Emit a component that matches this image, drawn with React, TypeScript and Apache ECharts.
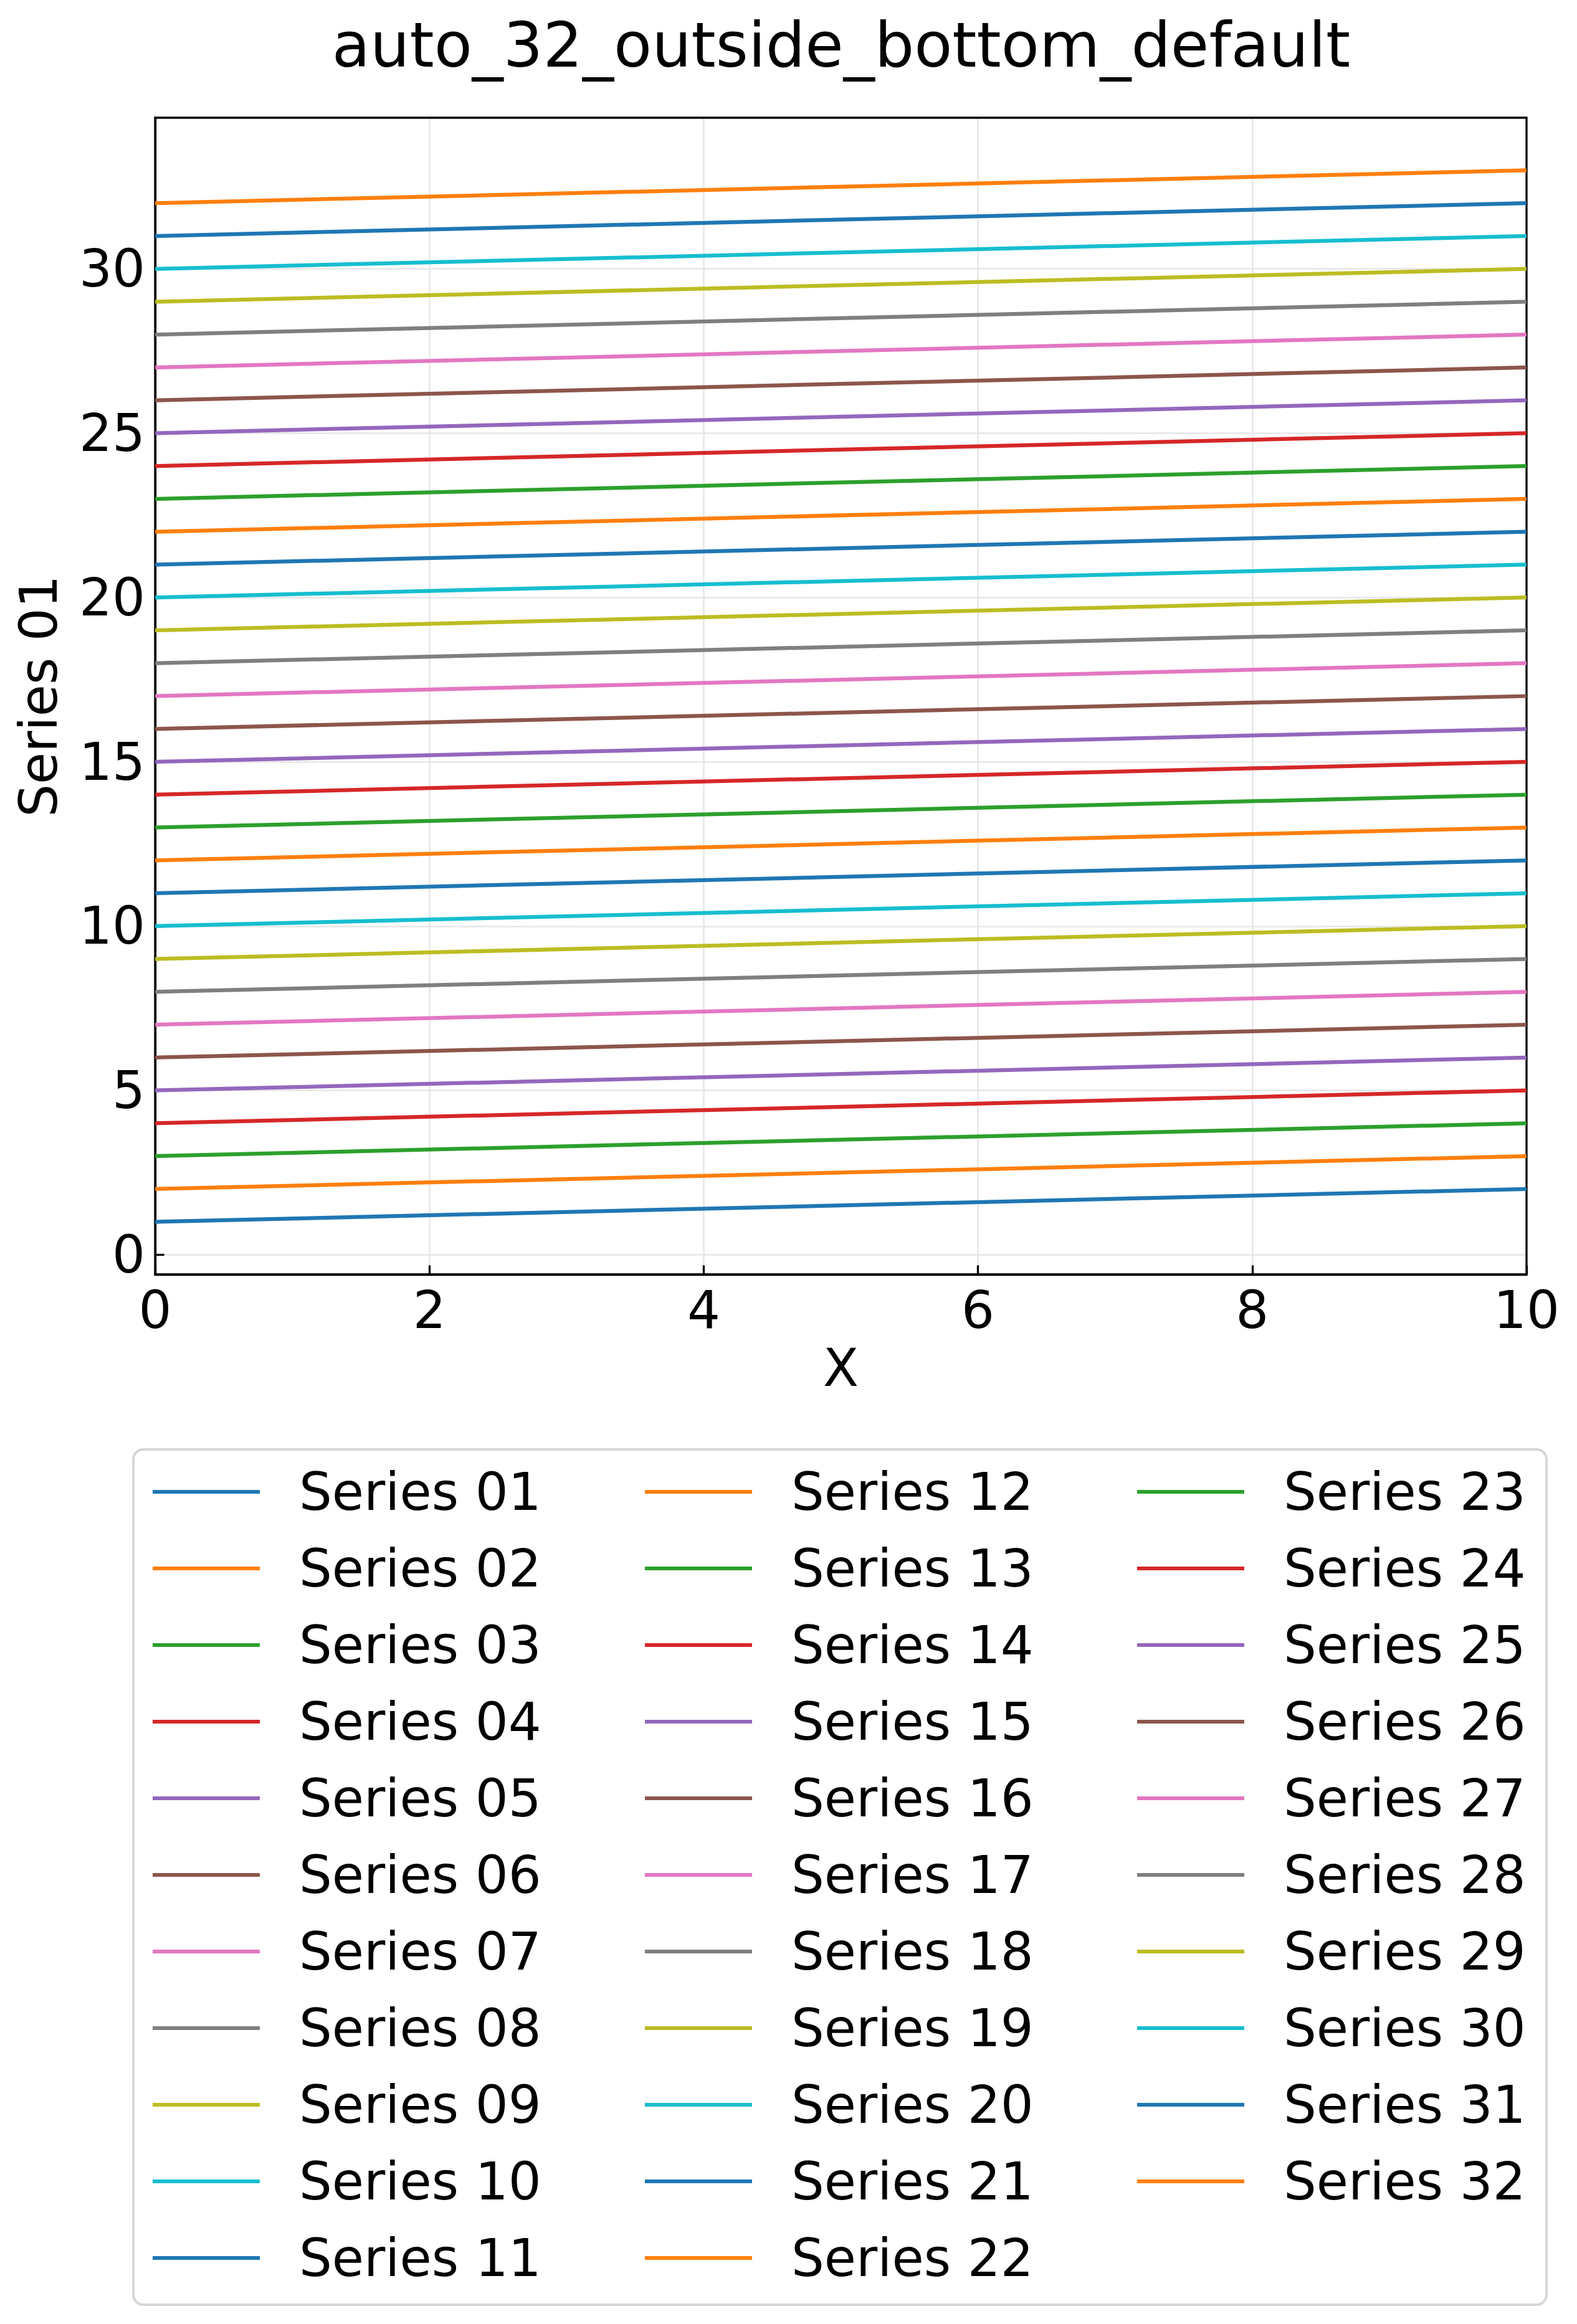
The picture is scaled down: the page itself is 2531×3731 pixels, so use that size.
import { useEffect, useRef } from 'react'
import * as echarts from 'echarts'

const seriesNames = [
  'Series 01', 'Series 02', 'Series 03', 'Series 04', 'Series 05', 'Series 06', 'Series 07', 'Series 08',
  'Series 09', 'Series 10', 'Series 11', 'Series 12', 'Series 13', 'Series 14', 'Series 15', 'Series 16',
  'Series 17', 'Series 18', 'Series 19', 'Series 20', 'Series 21', 'Series 22', 'Series 23', 'Series 24',
  'Series 25', 'Series 26', 'Series 27', 'Series 28', 'Series 29', 'Series 30', 'Series 31', 'Series 32',
]

// each series is a straight line from x = 0 to x = 10
const xValues = [0, 10]
const startValues = [1, 2, 3, 4, 5, 6, 7, 8, 9, 10, 11, 12, 13, 14, 15, 16, 17, 18, 19, 20, 21, 22, 23, 24, 25, 26, 27, 28, 29, 30, 31, 32]
const endValues = [2, 3, 4, 5, 6, 7, 8, 9, 10, 11, 12, 13, 14, 15, 16, 17, 18, 19, 20, 21, 22, 23, 24, 25, 26, 27, 28, 29, 30, 31, 32, 33]

const yTicks = [0, 5, 10, 15, 20, 25, 30]

const palette = ['#1f77b4', '#ff7f0e', '#2ca02c', '#d62728', '#9467bd', '#8c564b', '#e377c2', '#7f7f7f', '#bcbd22', '#17becf']

const FONT = 'DejaVu Sans'

export default function App() {
  const chartRef = useRef<HTMLDivElement>(null)

  useEffect(() => {
    document.body.style.margin = '0'
    if (!chartRef.current) return

    const chart = echarts.init(chartRef.current, null, { renderer: 'svg' })

    const legendText = {
      fontFamily: FONT,
      fontSize: 83.3,
      color: '#000',
      lineHeight: 100,
      padding: [0, 0, 0, 58],
    }
    const legendCols = [0, 11, 22]
    const legendLeft = [245, 1035, 1825]

    const option: any = {
      animation: false,
      backgroundColor: '#fff',
      title: {
        text: 'auto_32_outside_bottom_default',
        left: 1350,
        top: 22,
        textAlign: 'center',
        padding: 0,
        textStyle: { fontFamily: FONT, fontSize: 100, fontWeight: 'normal', color: '#000' },
      },
      graphic: [
        {
          type: 'rect',
          z: -10,
          shape: { x: 214, y: 2327, width: 2268, height: 1373, r: 16 },
          style: { fill: '#fff', stroke: '#d6d6d6', lineWidth: 4 },
        },
      ],
      legend: legendCols.map((start, c) => ({
        orient: 'vertical',
        left: legendLeft[c],
        top: 2345,
        padding: 0,
        itemGap: 23,
        itemWidth: 172,
        itemHeight: 6,
        icon: 'rect',
        selectedMode: false,
        textStyle: legendText,
        data: seriesNames.slice(start, start + 11),
      })),
      grid: {
        left: 249,
        right: 81,
        top: 189,
        bottom: 1685,
        show: true,
        borderColor: '#000',
        borderWidth: 3.3,
        containLabel: false,
        z: 3,
      },
      xAxis: {
        type: 'value',
        min: 0,
        max: 10,
        interval: 2,
        name: 'X',
        nameLocation: 'middle',
        nameGap: 109,
        nameTextStyle: { fontFamily: FONT, fontSize: 83.3, color: '#000' },
        axisLine: { show: true, onZero: false, lineStyle: { color: '#000', width: 3.3 } },
        axisTick: { show: true, inside: true, length: 14.6, lineStyle: { color: '#000', width: 3.3 } },
        axisLabel: { fontFamily: FONT, fontSize: 83.3, color: '#000', margin: 16 },
        splitLine: { show: true, showMinLine: false, showMaxLine: false, lineStyle: { color: '#e6e6e6', width: 2.5 } },
      },
      yAxis: {
        type: 'value',
        min: -0.6,
        max: 34.6,
        name: 'Series 01',
        nameLocation: 'middle',
        nameGap: 145,
        nameRotate: 90,
        nameTextStyle: { fontFamily: FONT, fontSize: 83.3, color: '#000' },
        axisLine: { show: true, onZero: false, lineStyle: { color: '#000', width: 3.3 } },
        axisTick: {
          show: true,
          inside: true,
          length: 14.6,
          customValues: yTicks,
          lineStyle: { color: '#000', width: 3.3 },
        },
        axisLabel: { fontFamily: FONT, fontSize: 83.3, color: '#000', margin: 16, customValues: yTicks },
        splitLine: { show: true, lineStyle: { color: '#e6e6e6', width: 2.5 } },
      },
      series: seriesNames.map((name, i) => ({
        name,
        type: 'line',
        color: palette[i % palette.length],
        showSymbol: false,
        symbol: 'none',
        lineStyle: { width: 6.25, color: palette[i % palette.length] },
        data: xValues.map((x, j) => [x, j === 0 ? startValues[i] : endValues[i]]),
      })),
    }

    chart.setOption(option)

    return () => {
      chart.dispose()
    }
  }, [])

  return <div ref={chartRef} style={{ width: '2531px', height: '3731px' }} />
}
